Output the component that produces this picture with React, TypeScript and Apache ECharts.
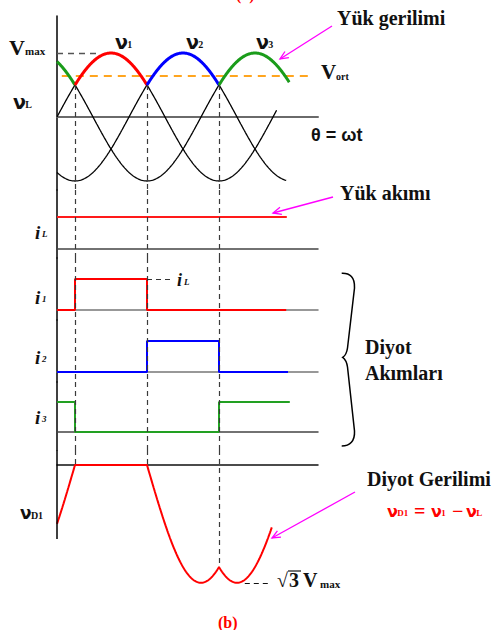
import { useEffect, useRef } from 'react';
import * as echarts from 'echarts';

// ---- three-phase half-wave rectifier waveforms (angles in degrees, voltages per-unit of Vmax) ----
const PHASE_SHIFT = [0, 120, 240];            // v1, v2, v3
const PHASE_END = [366, 383, 387];            // where each thin phase trace stops
const PHASE_COLORS = ['#ff0000', '#0000ff', '#1a9c1a'];
const V_MAX = 1;
const V_ORT = 0.64;
const VMAX_MARK_END = 67;
const VORT_FROM = 8;
const VORT_TO = 427;

// load voltage follows the highest phase
const ENVELOPE_FROM = [0, 30, 150, 270];
const ENVELOPE_TO = [30, 150, 270, 387];
const ENVELOPE_PHASE = [2, 0, 1, 2];
const COMMUTATION = [30, 150, 270];

// currents
const I_LOAD = 1;
const I_LOAD_END = 383;
const I1_WINDOWS = [[30, 150]];
const I2_WINDOWS = [[150, 270]];
const I3_WINDOWS = [[-90, 30], [270, 390]];
const I_TRACE_END = [382, 385, 388];
const IL_NOTE_END = 190;

// diode voltage vD1 = v1 - vL
const VD1_END = 358;
const SQRT3_MARK_FROM = 313;
const SQRT3_MARK_TO = 358;
const AXIS_BOTTOM_LEVEL = -1.09;
const THETA_MAX = 435;

// panel layout in pixels: top, bottom, zero line, pixels per unit
const PANEL_TOP = [16, 190, 258, 320, 382, 450];
const PANEL_BOTTOM = [190, 258, 320, 382, 450, 600];
const PANEL_ZERO = [117, 249, 310, 372, 432, 465];
const PANEL_UNIT = [64, 32, 31, 31, 30, 68];
const AXIS_COLOR = ['#6a6a6a', '#444', '#777', '#777', '#444', '#111'];
const GRID_LEFT = 57;
const GRID_WIDTH = 261;

const SERIF = '"Liberation Serif", "Times New Roman", serif';
const SANS = '"Liberation Sans", Arial, sans-serif';
const GREEK = '"DejaVu Sans", sans-serif';

const rad = (d: number) => (d * Math.PI) / 180;
const phaseV = (k: number, th: number) => V_MAX * Math.sin(rad(th - PHASE_SHIFT[k]));
const loadV = (th: number) => Math.max(phaseV(0, th), phaseV(1, th), phaseV(2, th));
const vD1 = (th: number) => phaseV(0, th) - loadV(th);

function sweep(from: number, to: number, f: (t: number) => number) {
  const pts: number[][] = [];
  for (let t = from; t < to; t += 1) pts.push([t, f(t)]);
  pts.push([to, f(to)]);
  return pts;
}

function stepTrace(windows: number[][], end: number, level: number) {
  const inside = (t: number) => windows.some(([a, b]) => t >= a && t < b);
  const edges = windows.flat().filter((e) => e > 0 && e < end).sort((a, b) => a - b);
  const pts: number[][] = [[0, inside(0) ? level : 0]];
  edges.forEach((e) => {
    pts.push([e, inside(e - 0.001) ? level : 0]);
    pts.push([e, inside(e) ? level : 0]);
  });
  pts.push([end, inside(end - 0.001) ? level : 0]);
  return pts;
}

const BraceShape = echarts.graphic.extendPath(
  'M341.7,273.3 C350,273 355,277 354.5,288 L347.5,348 Q346.5,355 342.7,357.3 Q346.5,360 347.5,367 L354.5,431 C355,441 350,446 341.7,446',
  {}
);
echarts.graphic.registerShape('brace', BraceShape);

function txt(x: number, y: number, text: string, size: number, opts: any = {}) {
  const weight = opts.weight ?? 'bold';
  const style = opts.italic ? 'italic ' : '';
  const fam = opts.family ?? SERIF;
  return {
    type: 'text',
    silent: true,
    z: 100,
    style: {
      x,
      y,
      text,
      font: `${style}${weight} ${size}px ${fam}`,
      fill: opts.color ?? '#111',
      align: opts.align ?? 'left',
      verticalAlign: 'middle',
      textAlign: opts.align ?? 'left',
      textVerticalAlign: 'middle',
    },
  };
}

// Greek nu with a small subscript, e.g. ν1, νL, νD1
function nu(x: number, y: number, sub: string, size: number, subSize: number, color = '#111') {
  const w = size * 0.64;
  return [
    txt(x, y, 'ν', size, { family: GREEK, color }),
    txt(x + w, y + size * 0.12, sub, subSize, { color }),
  ];
}

function arrow(x1: number, y1: number, x2: number, y2: number) {
  const ang = Math.atan2(y2 - y1, x2 - x1);
  const L = 9;
  const a = 0.42;
  const color = '#ff00ff';
  return {
    type: 'group',
    silent: true,
    z: 100,
    children: [
      { type: 'line', shape: { x1, y1, x2, y2 }, style: { stroke: color, lineWidth: 1.3 } },
      {
        type: 'polyline',
        shape: {
          points: [
            [x2 - L * Math.cos(ang - a), y2 - L * Math.sin(ang - a)],
            [x2, y2],
            [x2 - L * Math.cos(ang + a), y2 - L * Math.sin(ang + a)],
          ],
        },
        style: { stroke: color, lineWidth: 1.3, fill: 'none' },
      },
    ],
  };
}

export default function App() {
  const ref = useRef<HTMLDivElement>(null);

  useEffect(() => {
    if (!ref.current) return;
    const chart = echarts.init(ref.current, undefined, { renderer: 'svg' });

    const yMax = PANEL_TOP.map((t, i) => (PANEL_ZERO[i] - t) / PANEL_UNIT[i]);
    const yMin = PANEL_BOTTOM.map((b, i) => -(b - PANEL_ZERO[i]) / PANEL_UNIT[i]);

    const grid = PANEL_TOP.map((t, i) => ({
      left: GRID_LEFT,
      width: GRID_WIDTH,
      top: t,
      height: PANEL_BOTTOM[i] - t,
    }));
    const xAxis = PANEL_TOP.map((_, i) => ({
      type: 'value',
      gridIndex: i,
      min: 0,
      max: THETA_MAX,
      axisLine: { show: true, onZero: true, lineStyle: { color: AXIS_COLOR[i], width: i === 0 ? 2 : 1.5 } },
      axisTick: { show: false },
      axisLabel: { show: false },
      splitLine: { show: false },
    }));
    const yAxis = PANEL_TOP.map((_, i) => ({
      type: 'value',
      gridIndex: i,
      min: yMin[i],
      max: yMax[i],
      axisLine: { show: i < 5, onZero: false, lineStyle: { color: '#000', width: 1.5 } },
      axisTick: { show: false },
      axisLabel: { show: false },
      splitLine: { show: false },
    }));

    const line = (g: number, data: number[][], color: string, width: number, z = 3) => ({
      type: 'line',
      xAxisIndex: g,
      yAxisIndex: g,
      data,
      symbol: 'none',
      showSymbol: false,
      silent: true,
      clip: false,
      z,
      lineStyle: { color, width },
    });

    const dashed = (color: string, width = 1.2, dash: number[] = [5, 4]) => ({
      color,
      width,
      type: dash,
    });
    const seg = (a: number[], b: number[], lineStyle: any) => [{ coord: a, lineStyle }, { coord: b }];
    const guides = (g: number, data: any[]) => ({
      type: 'line',
      xAxisIndex: g,
      yAxisIndex: g,
      data: [],
      silent: true,
      z: 1,
      markLine: {
        silent: true,
        symbol: ['none', 'none'],
        label: { show: false },
        animation: false,
        data,
      },
    });
    const guideStyle = dashed('#3a3a3a', 1.2, [5, 4]);

    const series: any[] = [];

    // panel 0: phase voltages and load voltage
    PHASE_SHIFT.forEach((_, k) => {
      series.push(line(0, sweep(0, PHASE_END[k], (t) => phaseV(k, t)), '#000', 1.3, 2));
    });
    ENVELOPE_FROM.forEach((from, s) => {
      const k = ENVELOPE_PHASE[s];
      series.push(line(0, sweep(from, ENVELOPE_TO[s], (t) => phaseV(k, t)), PHASE_COLORS[k], 3, 5));
    });
    series.push(
      guides(0, [
        seg([0, V_MAX], [VMAX_MARK_END, V_MAX], dashed('#555', 1.3, [6, 5])),
        seg([VORT_FROM, V_ORT], [VORT_TO, V_ORT], dashed('#ffa51f', 2, [8, 6])),
        ...COMMUTATION.map((c) => seg([c, loadV(c)], [c, yMin[0]], guideStyle)),
      ])
    );

    // panels 1-4: load current and diode currents
    series.push(line(1, [[0, I_LOAD], [I_LOAD_END, I_LOAD]], '#ff1a1a', 2));
    series.push(line(2, stepTrace(I1_WINDOWS, I_TRACE_END[0], I_LOAD), PHASE_COLORS[0], 2));
    series.push(line(3, stepTrace(I2_WINDOWS, I_TRACE_END[1], I_LOAD), PHASE_COLORS[1], 2));
    series.push(line(4, stepTrace(I3_WINDOWS, I_TRACE_END[2], I_LOAD), '#22a022', 2));
    [1, 2, 3, 4].forEach((g) => {
      const extra = g === 2 ? [seg([COMMUTATION[1], I_LOAD], [IL_NOTE_END, I_LOAD], dashed('#333', 1.2, [5, 4]))] : [];
      series.push(guides(g, [...COMMUTATION.map((c) => seg([c, yMax[g]], [c, yMin[g]], guideStyle)), ...extra]));
    });

    // panel 5: diode voltage
    series.push(line(5, sweep(0, VD1_END, vD1), '#ff0000', 2));
    series.push(
      guides(5, [
        seg([0, yMax[5]], [0, AXIS_BOTTOM_LEVEL], { color: '#000', width: 1.5, type: 'solid' }),
        ...COMMUTATION.map((c) => seg([c, yMax[5]], [c, vD1(c)], guideStyle)),
        seg([SQRT3_MARK_FROM, -Math.sqrt(3) * V_MAX], [SQRT3_MARK_TO, -Math.sqrt(3) * V_MAX], dashed('#111', 1.2, [5, 4])),
      ])
    );

    const graphic: any[] = [
      txt(236, -6, '(a)', 16, { color: '#ff0000' }),
      // voltage panel labels
      txt(9, 47, 'V', 22),
      txt(25, 51, 'max', 11),
      ...nu(115, 42, '1', 19, 10),
      ...nu(186, 42, '2', 19, 10),
      ...nu(256, 42, '3', 19, 10),
      ...nu(13, 102, 'L', 19, 10),
      txt(321, 72, 'V', 21),
      txt(336, 76, 'ort', 10),
      txt(337, 18, 'Yük gerilimi', 20),
      arrow(332, 26, 280, 59),
      txt(311, 135, 'θ = ωt', 18, { family: SANS }),
      // current panels
      txt(340, 193, 'Yük akımı', 20),
      arrow(333, 197, 273, 213),
      txt(35, 232, 'i', 19, { italic: true }),
      txt(42, 234, 'L', 9, { italic: true }),
      txt(35, 297, 'i', 19, { italic: true }),
      txt(42, 299, '1', 9, { italic: true }),
      txt(35, 357, 'i', 19, { italic: true }),
      txt(42, 359, '2', 9, { italic: true }),
      txt(35, 417, 'i', 19, { italic: true }),
      txt(42, 419, '3', 9, { italic: true }),
      txt(177, 280, 'i', 18, { italic: true }),
      txt(184, 282, 'L', 9, { italic: true }),
      { type: 'brace', silent: true, z: 100, x: 0, y: 0, style: { stroke: '#000', fill: 'none', lineWidth: 1.5 } },
      txt(365, 347, 'Diyot', 20),
      txt(365, 373, 'Akımları', 20),
      // diode voltage panel
      ...nu(20, 513, 'D1', 17, 10),
      txt(367, 479, 'Diyot Gerilimi', 20),
      ...nu(387, 511, 'D1', 16, 9, '#ff0000'),
      txt(414, 511, '=', 20, { color: '#ff0000' }),
      ...nu(431, 511, '1', 16, 9, '#ff0000'),
      txt(452, 511, '−', 20, { color: '#ff0000' }),
      ...nu(466, 511, 'L', 16, 9, '#ff0000'),
      arrow(355, 492, 272, 538),
      txt(277, 580, '√', 20, { weight: 'normal' }),
      { type: 'line', silent: true, z: 100, shape: { x1: 288, y1: 571, x2: 301, y2: 571 }, style: { stroke: '#111', lineWidth: 1.2 } },
      txt(289, 580, '3', 20),
      txt(303, 580, 'V', 20),
      txt(320, 584, 'max', 11),
      txt(218, 622, '(b)', 16, { color: '#ff0000' }),
    ];

    chart.setOption({
      animation: false,
      backgroundColor: '#ffffff',
      grid,
      xAxis,
      yAxis,
      series,
      graphic,
    });

    return () => chart.dispose();
  }, []);

  return (
    <div
      ref={ref}
      style={{ position: 'absolute', left: 0, top: 0, width: 495, height: 630 }}
    />
  );
}
